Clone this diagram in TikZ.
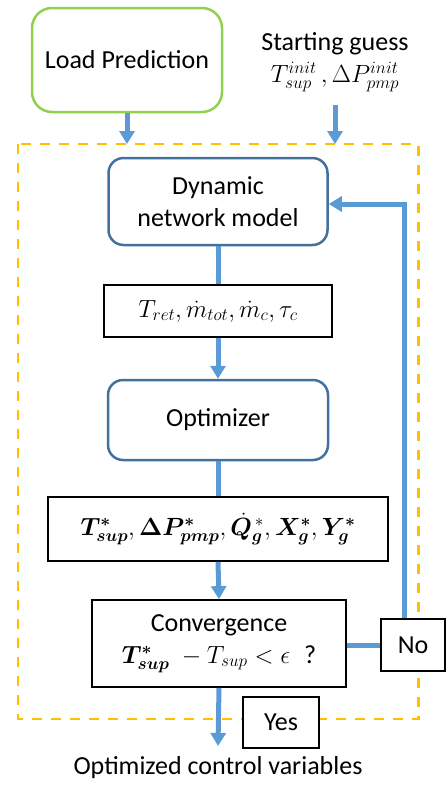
\documentclass[tikz,border=0pt]{standalone}
\usepackage{amsmath}
\usepackage{bm}
\usepackage{fontspec}
\setmainfont{Carlito}
\usetikzlibrary{arrows.meta}
\definecolor{lpgreen}{HTML}{92D050}
\definecolor{boxblue}{HTML}{41719C}
\definecolor{arrblue}{HTML}{5B9BD5}
\definecolor{dashorange}{HTML}{FFC000}
\begin{document}
\begin{tikzpicture}[x=1pt,y=-1pt,
  txt/.style={font=\fontsize{26}{32}\selectfont, align=center, inner sep=0pt},
  greenbox/.style={txt, draw=lpgreen, line width=2.5pt, rounded corners=20pt, fill=white},
  bluebox/.style={txt, draw=boxblue, line width=2.5pt, rounded corners=15pt, fill=white},
  blackbox/.style={txt, draw=black, line width=1.8pt, fill=white},
  flow/.style={draw=arrblue, line width=5pt},
  flowarr/.style={flow, -{Triangle[width=15pt,length=13pt]}},
  dashbox/.style={draw=dashorange, line width=2.5pt, dash pattern=on 10pt off 9pt}
]
\useasboundingbox (0,0) rectangle (446,785);
\draw[dashbox] (18,144) rectangle (418.5,719);

\node[greenbox, minimum width=190pt, minimum height=104pt] (lp) at (127,60) {Load Prediction};
\node[txt] (sg) at (335,62) {Starting guess\\$T^{init}_{sup}\,,\Delta P^{init}_{pmp}$};
\coordinate (lpin) at (127,144);
\coordinate (sgtop) at (335,105);
\coordinate (sgin) at (335,144);

\node[bluebox, minimum width=219pt, minimum height=87pt] (dyn) at (218,201.5) {Dynamic\\network model};
\node[blackbox, minimum width=228pt, minimum height=52pt] (v1) at (218,311) {$T_{ret},\dot{m}_{tot},\dot{m}_c,\tau_c$};
\node[bluebox, minimum width=220pt, minimum height=80pt] (opt) at (218,420) {Optimizer};
\node[blackbox, minimum width=340pt, minimum height=64pt] (v2) at (218,529) {$\bm{T^*_{sup}},\bm{\Delta P^*_{pmp}},\dot{\bm{Q}}^{\,*}_{\bm{g}},\bm{X^*_g},\bm{Y^*_g}$};
\node[blackbox, minimum width=254pt, minimum height=87pt] (conv) at (219,643.5) {Convergence\\$\bm{T^*_{sup}}\;-T_{sup}<\epsilon\;\;$?};
\node[blackbox, minimum width=64pt, minimum height=52pt] (no) at (413,645) {No};
\node[blackbox, minimum width=76pt, minimum height=51pt] (yes) at (281,722.5) {Yes};
\node[txt] (out) at (218,768) {Optimized control variables};
\coordinate (fb) at (404,204);
\coordinate (outend) at (218,746);

\draw[flowarr] (lp.south) -- (lpin);
\draw[flowarr] (sgtop) -- (sgin);
\draw[flow] (dyn.south) -- (v1.north);
\draw[flowarr] (v1.south) -- (opt.north);
\draw[flow] (opt.south) -- (v2.north);
\draw[flowarr] (v2.south) -- (conv.north);
\draw[flow] (conv.east |- no.west) -- (no.west);
\draw[flowarr] (no.north -| fb) -- (fb) -- (dyn.east |- fb);
\draw[flowarr] (conv.south) -- (outend);

% redraw boxes on top of connectors
\node[blackbox, minimum width=64pt, minimum height=52pt] at (413,645) {No};
\end{tikzpicture}
\end{document}
